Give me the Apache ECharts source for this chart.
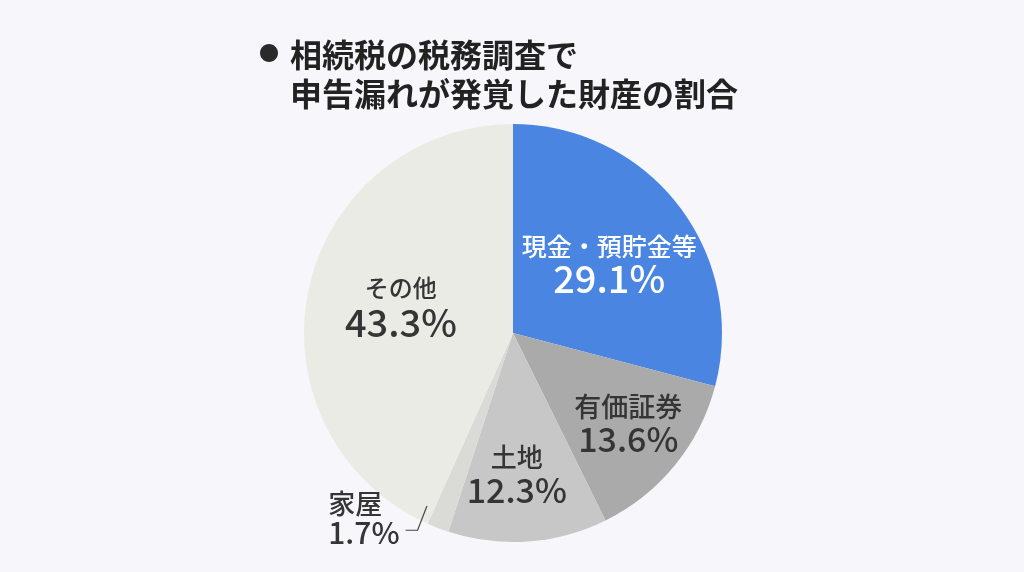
<!DOCTYPE html>
<html>
<head>
<meta charset="utf-8">
<script src="https://cdn.jsdelivr.net/npm/echarts@6/dist/echarts.min.js"></script>
<style>
html,body{margin:0;padding:0;background:#f7f7fb;}
#c{width:1024px;height:572px;}
</style>
</head>
<body>
<div id="c"></div>
<script>
const titleLines = ['相続税の税務調査で', '申告漏れが発覚した財産の割合'];
const categories = ['現金・預貯金等', '有価証券', '土地', '家屋', 'その他'];
const values = [29.1, 13.6, 12.3, 1.7, 43.3];
const colors = ['#4a86e1', '#aaaaaa', '#c7c7c7', '#dadad6', '#ebebe6'];

// label style tweaks per slice (sizes, offsets)
const labelStyles = [
  {nSize: 25, vSize: 38, nLh: 28, vLh: 36, color: '#ffffff', dx: 11, dy: -3},
  {nSize: 27, vSize: 34, nLh: 28, vLh: 36, color: '#353535', dx: 32, dy: 24},
  {nSize: 26, vSize: 34, nLh: 28, vLh: 38, color: '#353535', dx: -4, dy: 36},
  {nSize: 27, vSize: 30, nLh: 28, vLh: 30, color: '#353535', padding: [0, 19, 42, 0], outside: true},
  {nSize: 24, vSize: 38, nLh: 30, vLh: 40, color: '#353535', dx: -7, dy: -3}
];

const FONT = '"Noto Sans CJK JP", "Noto Sans", sans-serif';

function richFor(s) {
  const al = s.outside ? 'left' : 'center';
  return {
    n: {fontSize: s.nSize, lineHeight: s.nLh, color: s.color, fontFamily: FONT, fontWeight: 500, align: al},
    v: {fontSize: s.vSize, lineHeight: s.vLh, color: s.color, fontFamily: FONT, fontWeight: 500, align: al}
  };
}
const fmt = p => '{n|' + p.name + '}\n{v|' + p.value + '%}';

// base pie: coloured slices + inside labels
const baseData = categories.map((name, i) => {
  const s = labelStyles[i];
  return {
    name: name,
    value: values[i],
    itemStyle: {color: colors[i]},
    label: s.outside ? {show: false} : {show: true, position: 'inside', formatter: fmt, rich: richFor(s)},
    labelLine: {show: false}
  };
});

// overlay pie (transparent slices) carrying the outside label so its guide line is drawn above the pie
const overlayData = categories.map((name, i) => {
  const s = labelStyles[i];
  return {
    name: name,
    value: values[i],
    itemStyle: {color: 'rgba(0,0,0,0)'},
    label: s.outside ? {show: true, position: 'outside', padding: s.padding, formatter: fmt, rich: richFor(s)} : {show: false},
    labelLine: s.outside ? {show: true, length: 12, length2: 10, lineStyle: {color: '#444', width: 1.2}} : {show: false}
  };
});

const chart = echarts.init(document.getElementById('c'), null, {renderer: 'canvas'});
chart.setOption({
  backgroundColor: '#f7f7fb',
  animation: false,
  title: [
    {text: '●', left: 254, top: 38, textStyle: {fontSize: 20, color: '#2a2a2a', fontFamily: FONT, fontWeight: 'normal'}},
    {text: titleLines.join('\n'), left: 285, top: 30,
     textStyle: {fontSize: 32, lineHeight: 39, color: '#222', fontFamily: FONT, fontWeight: 'bold'}}
  ],
  series: [{
    type: 'pie',
    z: 2,
    center: [513, 333],
    radius: [0, 209],
    startAngle: 90,
    clockwise: true,
    avoidLabelOverlap: false,
    data: baseData,
    labelLayout: function (params) {
      const s = labelStyles[params.dataIndex];
      return {dx: s.dx || 0, dy: s.dy || 0};
    }
  }, {
    type: 'pie',
    z: 3,
    silent: true,
    center: [513, 333],
    radius: [0, 209],
    startAngle: 90,
    clockwise: true,
    avoidLabelOverlap: false,
    data: overlayData,
    labelLayout: function (params) {
      const s = labelStyles[params.dataIndex];
      const pts = params.labelLinePoints;
      if (s.outside && pts && pts.length === 3) {
        // guide line: starts inside the pie, runs radially, then turns horizontally toward the text
        const vx = pts[1][0] - pts[0][0], vy = pts[1][1] - pts[0][1];
        const len = Math.sqrt(vx * vx + vy * vy) || 1;
        const ux = vx / len, uy = vy / len;
        const end = [pts[2][0] - 18, pts[2][1] - 9];
        const corner = [end[0] + 12, end[1]];
        const start = [corner[0] - ux * 26, corner[1] - uy * 26];
        return {labelLinePoints: [start, corner, end]};
      }
      return {};
    }
  }]
});
</script>
</body>
</html>
